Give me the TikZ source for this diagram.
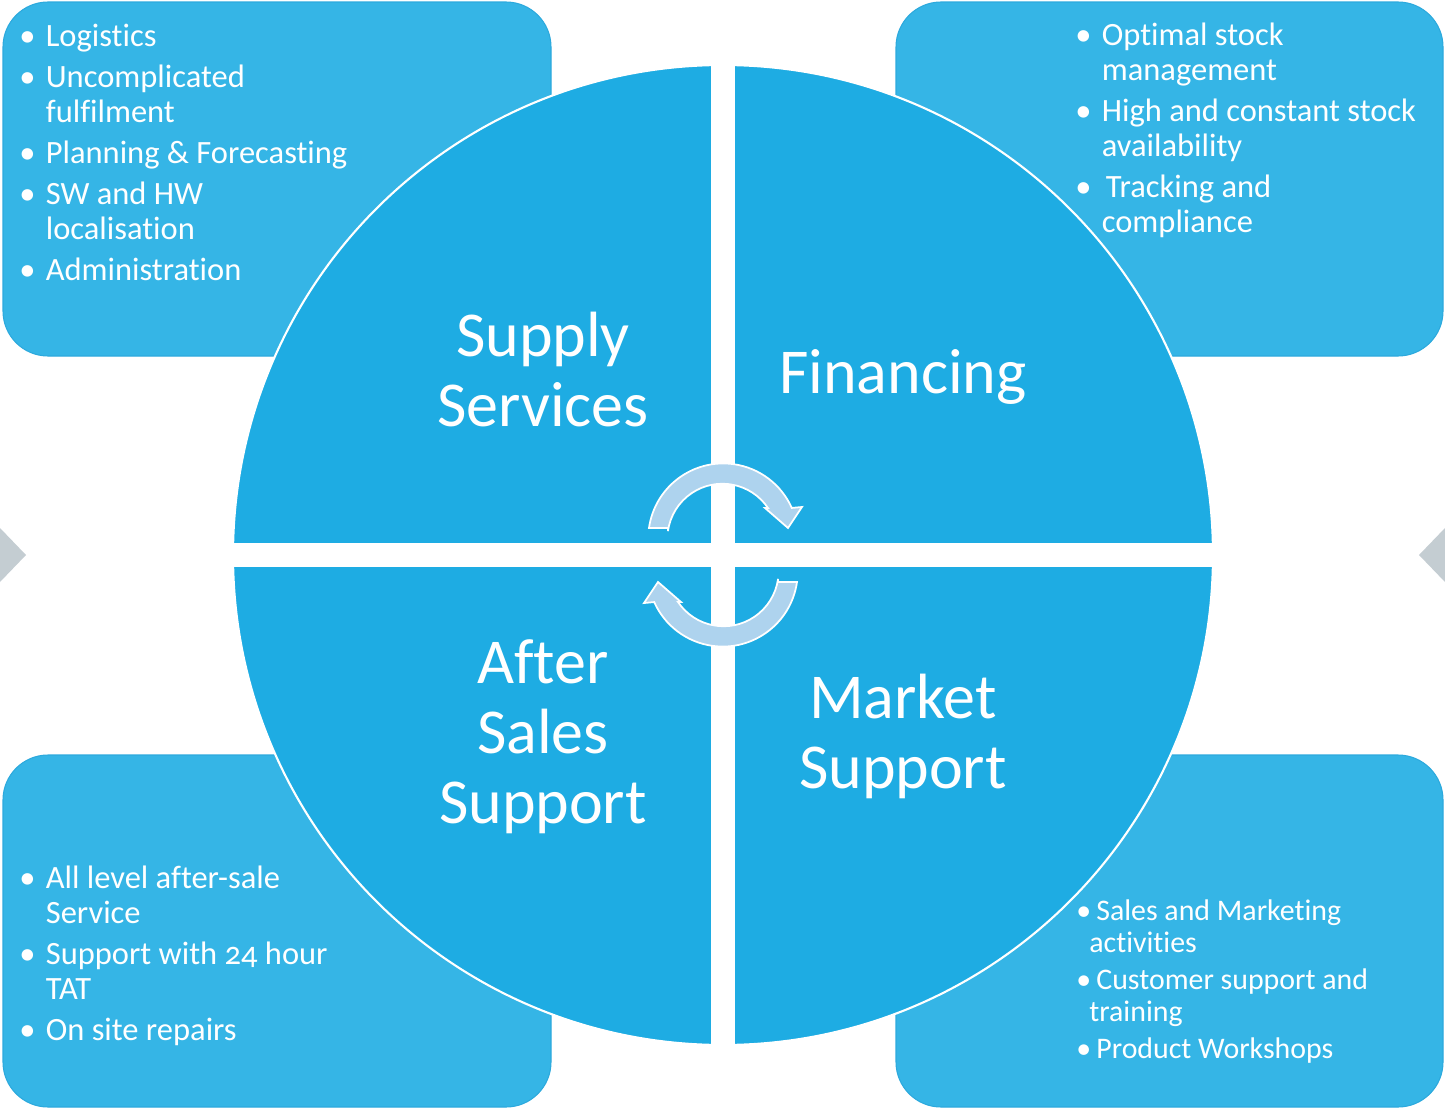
\documentclass[tikz,border=0pt]{standalone}
\usepackage{fontspec}
\setmainfont{Carlito}[Numbers=OldStyle, Ligatures=NoCommon]
\usepackage{tikz}
\usetikzlibrary{positioning,calc}
\definecolor{quadblue}{HTML}{1EACE3}
\definecolor{boxblue}{HTML}{35B5E6}
\definecolor{boxline}{HTML}{2CA9DD}
\definecolor{arrowblue}{HTML}{AED3EE}
\definecolor{markgray}{HTML}{C4CDD2}
\newcommand{\bu}{\makebox[0.53cm][l]{\textbullet}}
\newcommand{\hang}{\hspace*{0.53cm}}
\newcommand{\smallbu}{\makebox[0.40cm][l]{\textbullet}}
\newcommand{\smallhang}{\hspace*{0.26cm}}

\begin{document}
\begin{tikzpicture}[
    x=0.02cm, y=-0.02cm,
    infobox/.style={fill=boxblue, draw=boxline, line width=0.6pt, rounded corners=0.9cm},
    quadtext/.style={text=white, align=center, inner sep=0pt, anchor=base,
        font=\fontsize{36.4}{39.8}\selectfont},
    listtext/.style={text=white, align=left, inner sep=0pt, anchor=base west,
        font=\fontsize{18.5}{19.9}\selectfont},
    smalllist/.style={listtext, font=\fontsize{17}{18.2}\selectfont},
    cyclearrow/.style={fill=arrowblue, draw=white, line width=1pt},
    sidemark/.style={fill=markgray}
]
    \useasboundingbox (0,0) rectangle (1445,1109);

    % side markers
    \fill[sidemark] (0,528) -- (26,555) -- (0,582) -- cycle;
    \fill[sidemark] (1445,528) -- (1419,555) -- (1445,582) -- cycle;

    % corner boxes
    \draw[infobox] (3,2) rectangle (551,356);
    \draw[infobox] (896,2) rectangle (1443,356);
    \draw[infobox] (3,755) rectangle (551,1107);
    \draw[infobox] (896,755) rectangle (1443,1107);

    % the four quadrants
    \coordinate (hub) at (723,555);
    \filldraw[fill=quadblue, draw=white, line width=1.2pt] (hub) circle[radius=490];
    \fill[white] (711,60) rectangle (735,1050);
    \fill[white] (228,543) rectangle (1218,567);

    \node[quadtext] (supply) at (543,426) {Supply\\Services};
    \node[quadtext] (financing) at (903,393) {Financing};
    \node[quadtext] (aftersales) at (543,823) {After\\Sales\\Support};
    \node[quadtext] (market) at (903,788) {Market\\Support};

    % cycle arrows
    \coordinate (upc) at (723,538);
    \coordinate (downc) at (723,572);
    \draw[cyclearrow] (668,528) -- (649,528) arc[start angle=188, end angle=336, radius=75]
        -- (802,507) -- (788,528) -- (765,508) -- (768,508)
        arc[start angle=326, end angle=188, radius=55] -- cycle;
    \draw[cyclearrow] (778,582) -- (797,582) arc[start angle=8, end angle=156, radius=75]
        -- (644,603) -- (658,582) -- (681,602) -- (678,602)
        arc[start angle=146, end angle=8, radius=55] -- cycle;

    % bullet lists
    \node[listtext] (supplylist) at (19,280) {\bu Logistics\\[3.4pt]
        \bu Uncomplicated\\ \hang fulfilment\\[3.4pt]
        \bu Planning \& Forecasting\\[3.4pt]
        \bu SW and HW\\ \hang localisation\\[3.4pt]
        \bu Administration};
    \node[listtext] (financelist) at (1075,232) {\bu Optimal stock\\ \hang management\\[3.4pt]
        \bu High and constant stock\\ \hang availability\\[3.4pt]
        \bu\hspace{0.08cm}Tracking and\\ \hang compliance};
    \node[listtext] (aftersaleslist) at (19,1040) {\bu All level after-sale\\ \hang Service\\[3.4pt]
        \bu Support with 24 hour\\ \hang TAT\\[3.4pt]
        \bu On site repairs};
    \node[smalllist] (marketlist) at (1076,1058) {\smallbu Sales and Marketing\\ \smallhang activities\\[2.8pt]
        \smallbu Customer support and\\ \smallhang training\\[2.8pt]
        \smallbu Product Workshops};
\end{tikzpicture}
\end{document}
